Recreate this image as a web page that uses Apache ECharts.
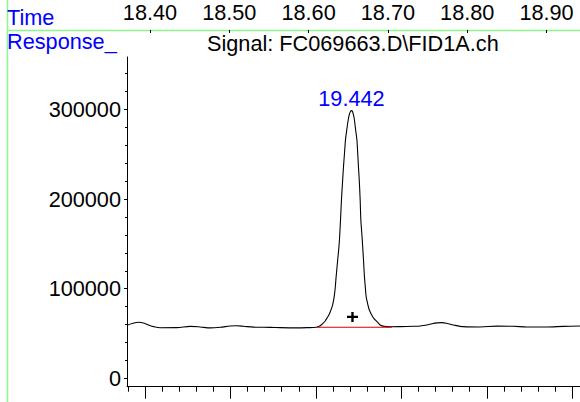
<!DOCTYPE html>
<html>
<head>
<meta charset="utf-8">
<script src="https://cdn.jsdelivr.net/npm/echarts@6/dist/echarts.min.js"></script>
<style>
html,body{margin:0;padding:0;background:#fff;}
#chart{width:580px;height:402px;}
</style>
</head>
<body>
<div id="chart"></div>
<script>
// ---- data ----
const times = [19.179,19.1851,19.1925,19.1992,19.2050,19.2101,19.2179,19.2374,19.2530,19.2647,19.2764,19.2881,19.2998,19.3068,19.3153,19.3270,19.3466,19.3582,19.3778,19.3895,
19.4004,19.4050,19.4085,19.4109,19.4132,19.4156,19.4175,19.4196,19.4214,19.4226,19.4237,19.4255,19.4273,19.4288,19.4299,19.4311,19.4323,19.4335,19.4346,19.4361,19.4378,19.4393,19.4405,19.4416,
19.4428,19.4440,19.4451,19.4465,19.4480,19.4489,19.4498,19.4509,19.4518,19.4526,19.4536,19.4545,19.4557,19.4568,19.4579,19.4588,19.4606,19.4623,19.4647,19.4670,19.4694,19.4729,19.4752,19.4799,19.4869,
19.4986,19.5142,19.5220,19.5298,19.5360,19.5419,19.5474,19.5536,19.5609,19.5726,19.5922,19.6117,19.6311,19.6468,19.6702,19.6896,19.709];
const responses = [59330,61220,62560,61450,59220,57660,56430,56540,57990,57320,56320,56990,58330,58660,58100,57100,56880,56540,56320,56540,
56990,58600,61500,64000,67500,71500,76000,82000,91110,100810,113420,132040,150660,176650,198950,217910,236090,251370,265860,277020,288170,294860,297650,298540,
297650,293740,288170,277020,265860,251370,236090,217910,198950,176650,163260,150660,132040,113420,100810,91110,82970,76840,71820,67920,65130,61780,59550,57990,57540,
57660,58100,58440,59550,61000,61890,62120,61220,59550,57660,57320,58210,58100,57320,57320,57990,58330];

const baselineTimes = [19.4012, 19.4889];
const baselineValues = [57000, 57000];

const markerTime = 19.4428;
const markerValue = 68500;

const peakTime = 19.4416;
const peakValue = 298540;
const peakLabel = '19.442';

const xMajorTicks = [19.2, 19.3, 19.4, 19.5, 19.6, 19.7];
const yMajorTicks = [0, 100000, 200000, 300000];
const headerTicks = [18.40, 18.50, 18.60, 18.70, 18.80, 18.90];

const headerTitle = 'Time';
const yTitle = 'Response_';
const signalTitle = 'Signal: FC069663.D\\FID1A.ch';

// ---- chart ----
const FONT = 'Liberation Sans, Arial, sans-serif';
const FS = 21.7;
const chart = echarts.init(document.getElementById('chart'), null, {renderer: 'svg'});

const option = {
  animation: false,
  backgroundColor: '#fff',
  textStyle: {fontFamily: FONT},
  title: [
    {text: headerTitle, left: 7, top: 6.5, padding: 0,
     textStyle: {color: '#0000ff', fontSize: FS, fontWeight: 'normal', fontFamily: FONT}},
    {text: yTitle, left: 7, top: 30.5, padding: 0,
     textStyle: {color: '#0000ff', fontSize: FS, fontWeight: 'normal', fontFamily: FONT}},
    {text: signalTitle, left: 207, top: 32, padding: 0,
     textStyle: {color: '#000', fontSize: FS, fontWeight: 'normal', fontFamily: FONT}}
  ],
  graphic: [
    {type: 'line', shape: {x1: 7.5, y1: 0, x2: 7.5, y2: 402}, style: {stroke: '#8cf78c', lineWidth: 1.5}, z: 0},
    {type: 'line', shape: {x1: 7, y1: 30.5, x2: 580, y2: 30.5}, style: {stroke: '#8cf78c', lineWidth: 1.5}, z: 0}
  ],
  grid: [
    {left: 127, right: 0, top: 57, bottom: 15.3, containLabel: false},
    {left: 7, right: 0, top: 0, height: 30, containLabel: false}
  ],
  xAxis: [
    {
      type: 'value', gridIndex: 0, min: 19.179, max: 19.709,
      splitNumber: 5, minInterval: 0.1, maxInterval: 0.1,
      axisLine: {show: true, onZero: false, lineStyle: {color: '#000', width: 1}},
      axisTick: {show: true, length: 12, customValues: xMajorTicks, lineStyle: {color: '#000', width: 1}},
      minorTick: {show: true, splitNumber: 5, length: 5, lineStyle: {color: '#000', width: 1}},
      axisLabel: {show: false},
      splitLine: {show: false}
    },
    {
      type: 'value', gridIndex: 1, position: 'top', min: 18.2197, max: 18.9422,
      axisLine: {show: false},
      axisTick: {show: true, inside: true, length: 3, customValues: headerTicks, lineStyle: {color: '#000', width: 1}},
      axisLabel: {show: true, inside: true, margin: 1.5, customValues: headerTicks,
        formatter: v => v.toFixed(2), fontSize: FS, color: '#000', fontFamily: FONT},
      splitLine: {show: false}
    }
  ],
  yAxis: [
    {
      type: 'value', gridIndex: 0, min: -9300, max: 358400,
      splitNumber: 4, minInterval: 100000, maxInterval: 100000,
      axisLine: {show: true, onZero: false, lineStyle: {color: '#000', width: 1}},
      axisTick: {show: true, length: 3, customValues: yMajorTicks, lineStyle: {color: '#000', width: 1}},
      minorTick: {show: true, splitNumber: 5, length: 2, lineStyle: {color: '#000', width: 1}},
      axisLabel: {show: true, customValues: yMajorTicks, margin: 6, fontSize: FS, color: '#000', fontFamily: FONT,
        formatter: v => String(Math.round(v))},
      splitLine: {show: false}
    },
    {type: 'value', gridIndex: 1, show: false, min: 0, max: 1}
  ],
  series: [
    {
      type: 'line', xAxisIndex: 0, yAxisIndex: 0,
      data: times.map((t, i) => [t, responses[i]]),
      showSymbol: false, smooth: 0.3,
      lineStyle: {color: '#000', width: 1.1},
      z: 3
    },
    {
      type: 'line', xAxisIndex: 0, yAxisIndex: 0,
      data: baselineTimes.map((t, i) => [t, baselineValues[i]]),
      showSymbol: false,
      lineStyle: {color: '#e00000', width: 1},
      z: 4
    },
    {
      type: 'scatter', xAxisIndex: 0, yAxisIndex: 0,
      data: [[markerTime, markerValue]],
      symbol: 'path://M4,0H6.2V3.9H10.2V6.1H6.2V10H4V6.1H0V3.9H4Z',
      symbolSize: [11, 10],
      itemStyle: {color: '#000', opacity: 1},
      z: 5
    },
    {
      type: 'scatter', xAxisIndex: 0, yAxisIndex: 0,
      data: [[peakTime, peakValue]],
      symbolSize: 0,
      itemStyle: {opacity: 1},
      label: {show: true, position: 'top', distance: 1, formatter: () => peakLabel,
        color: '#0000ff', fontSize: FS, fontFamily: FONT, opacity: 1},
      z: 5
    }
  ]
};
chart.setOption(option);
</script>
</body>
</html>
